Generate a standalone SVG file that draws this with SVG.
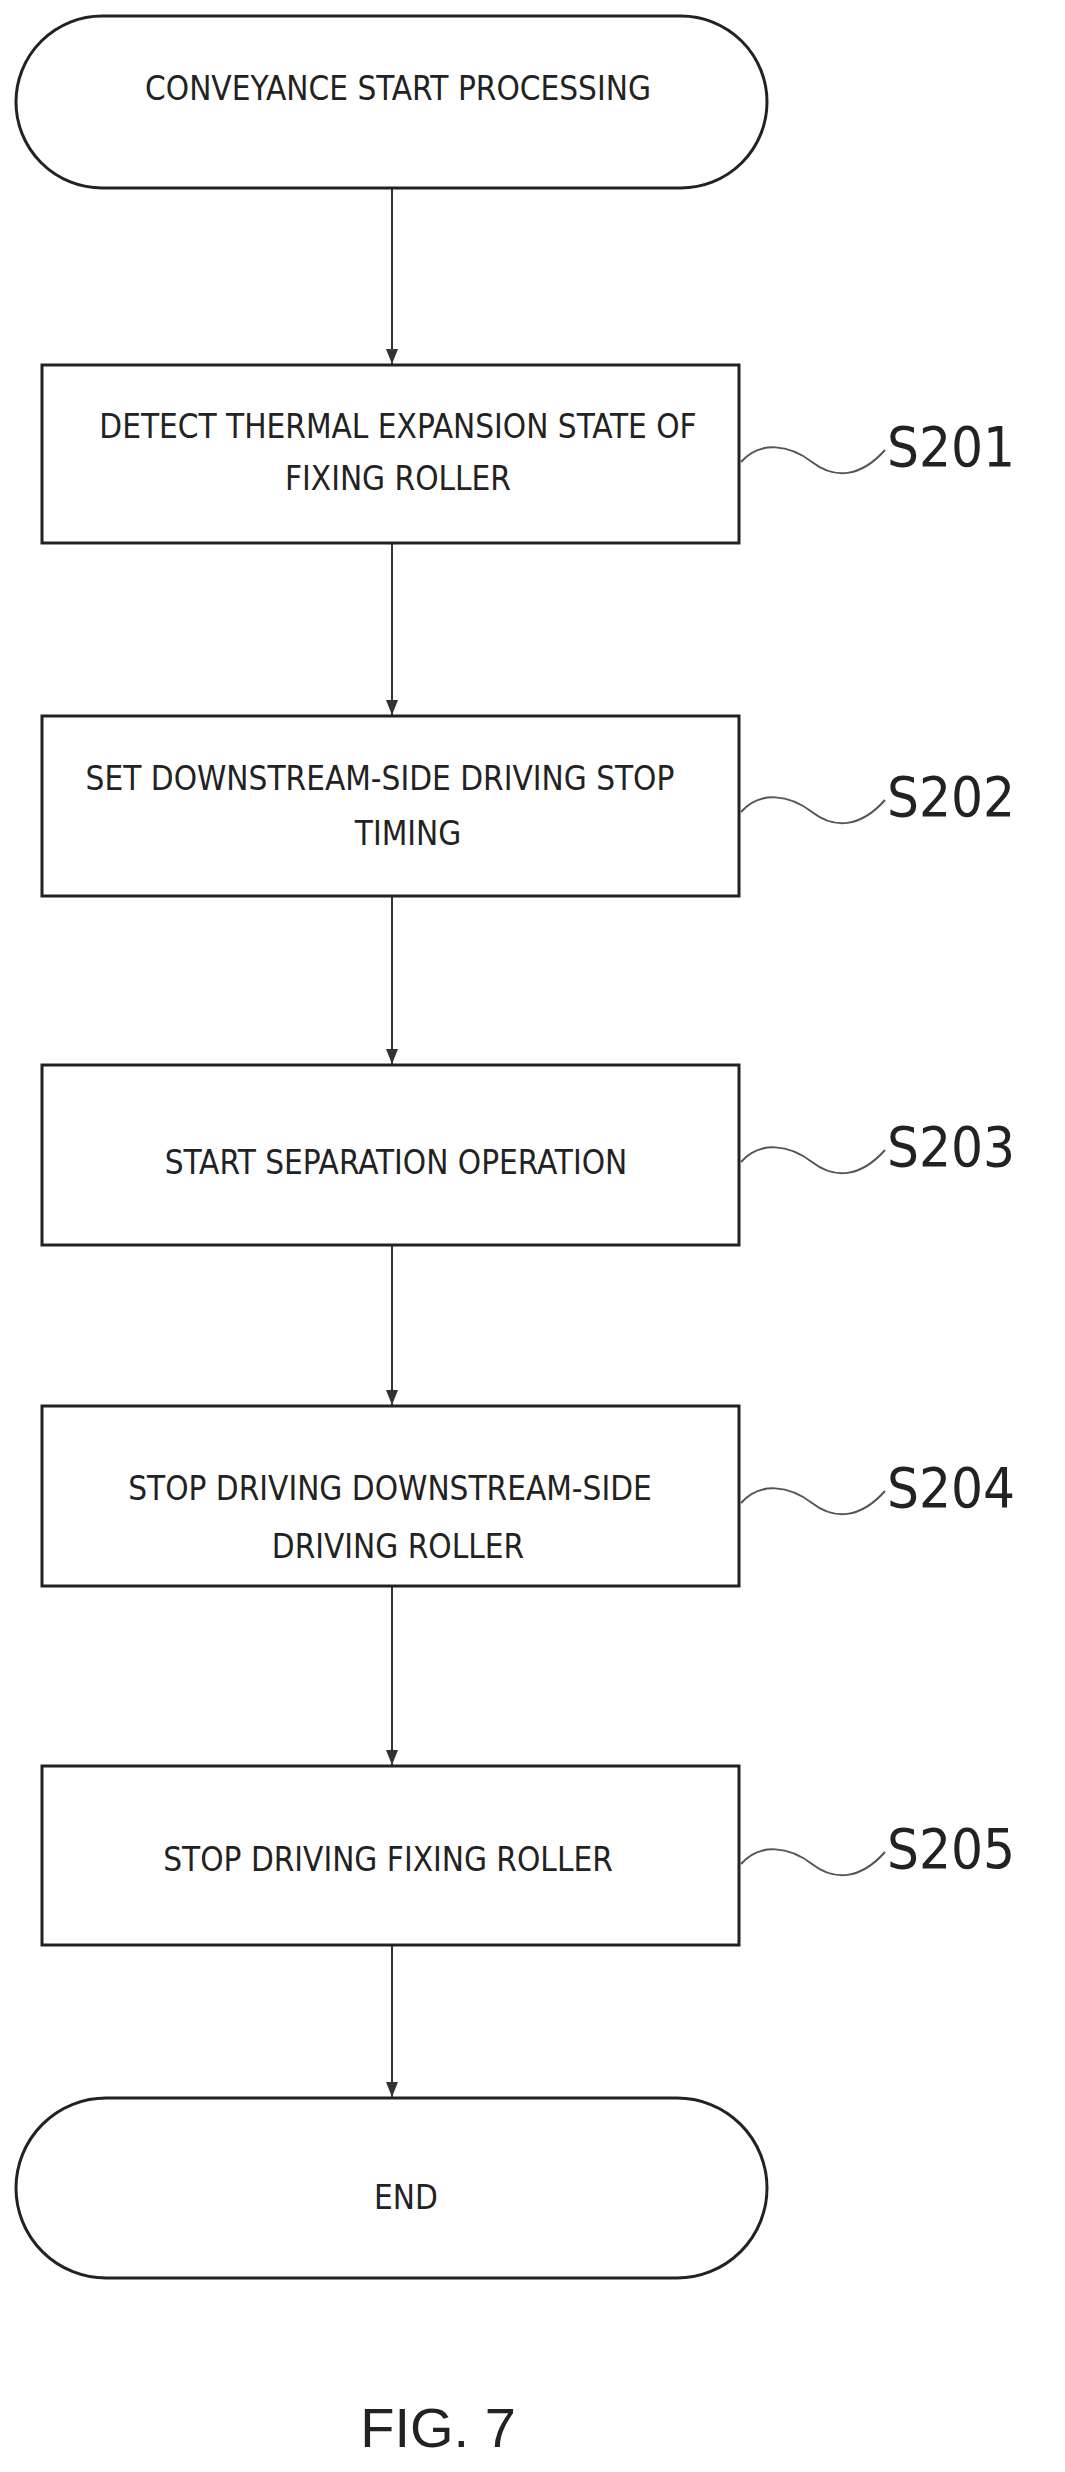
<svg xmlns="http://www.w3.org/2000/svg" width="1065" height="2472" viewBox="0 0 1065 2472">
<style>
.b{fill:#fff;stroke:#222;stroke-width:3}
.t{font-family:"DejaVu Sans Condensed","Liberation Sans",sans-serif;font-stretch:condensed;font-size:33px;fill:#222;text-anchor:middle}
.l{font-family:"DejaVu Sans Condensed","Liberation Sans",sans-serif;font-stretch:condensed;font-size:56px;fill:#222}
.c{stroke:#333;stroke-width:2;fill:none}
.w{stroke:#555;stroke-width:2;fill:none}
</style>
<defs><marker id="a" markerWidth="16" markerHeight="12" refX="15" refY="6" orient="auto" markerUnits="userSpaceOnUse"><path d="M0,0 L15,6 L0,12 Z" fill="#333"/></marker></defs>
<rect width="1065" height="2472" fill="#fff"/>
<g id="connectors">
<line class="c" x1="392" y1="188" x2="392" y2="364" marker-end="url(#a)"/>
<line class="c" x1="392" y1="543" x2="392" y2="715" marker-end="url(#a)"/>
<line class="c" x1="392" y1="896" x2="392" y2="1064" marker-end="url(#a)"/>
<line class="c" x1="392" y1="1245" x2="392" y2="1405" marker-end="url(#a)"/>
<line class="c" x1="392" y1="1586" x2="392" y2="1765" marker-end="url(#a)"/>
<line class="c" x1="392" y1="1945" x2="392" y2="2097" marker-end="url(#a)"/>
</g>
<g id="start"><rect class="b" x="16" y="16" width="751" height="172" rx="86"/><text class="t" x="398" y="100">CONVEYANCE START PROCESSING</text></g>
<g id="s201"><rect class="b" x="42" y="365" width="697" height="178"/><text class="t" x="398" y="438">DETECT THERMAL EXPANSION STATE OF</text><text class="t" x="398" y="490">FIXING ROLLER</text>
<path class="w" d="M741,462 C760,440 790,445 812,462 S860,478 885,450"/><text class="l" x="887" y="466">S201</text></g>
<g id="s202"><rect class="b" x="42" y="716" width="697" height="180"/><text class="t" x="380" y="790">SET DOWNSTREAM-SIDE DRIVING STOP</text><text class="t" x="408" y="845">TIMING</text>
<path class="w" d="M741,812 C760,790 790,795 812,812 S860,828 885,800"/><text class="l" x="887" y="816">S202</text></g>
<g id="s203"><rect class="b" x="42" y="1065" width="697" height="180"/><text class="t" x="396" y="1174">START SEPARATION OPERATION</text>
<path class="w" d="M741,1162 C760,1140 790,1145 812,1162 S860,1178 885,1150"/><text class="l" x="887" y="1166">S203</text></g>
<g id="s204"><rect class="b" x="42" y="1406" width="697" height="180"/><text class="t" x="390" y="1500">STOP DRIVING DOWNSTREAM-SIDE</text><text class="t" x="398" y="1558">DRIVING ROLLER</text>
<path class="w" d="M741,1503 C760,1481 790,1486 812,1503 S860,1519 885,1491"/><text class="l" x="887" y="1507">S204</text></g>
<g id="s205"><rect class="b" x="42" y="1766" width="697" height="179"/><text class="t" x="388" y="1871">STOP DRIVING FIXING ROLLER</text>
<path class="w" d="M741,1864 C760,1842 790,1847 812,1864 S860,1880 885,1852"/><text class="l" x="887" y="1868">S205</text></g>
<g id="end"><rect class="b" x="16" y="2098" width="751" height="180" rx="90"/><text class="t" x="406" y="2209">END</text></g>
<text x="438" y="2447" style="font-family:'Liberation Sans',sans-serif;font-size:56px;fill:#222;text-anchor:middle">FIG. 7</text>
</svg>
